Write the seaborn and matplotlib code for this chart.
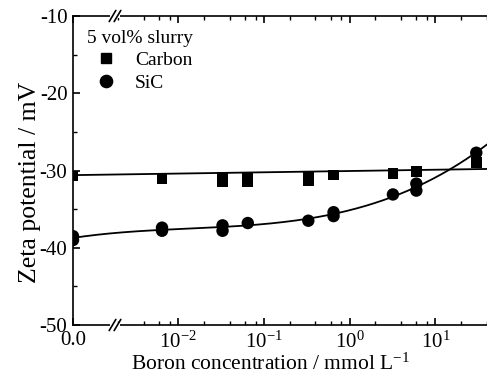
import numpy as np
import pandas as pd
import matplotlib
matplotlib.use("Agg")
import matplotlib.pyplot as plt
import seaborn as sns
from matplotlib.lines import Line2D
from matplotlib.scale import SymmetricalLogTransform
from matplotlib.ticker import FixedLocator, FixedFormatter, NullFormatter

# Boron concentration (mmol/L) vs. zeta potential (mV), 5 vol% slurries
carbon_conc = [0, 0.0065, 0.033, 0.033, 0.065, 0.065, 0.33, 0.33, 0.65, 3.2, 6.0, 30]
carbon_zeta = [-30.7, -31.0, -30.9, -31.4, -31.0, -31.5, -30.9, -31.3, -30.6, -30.4, -30.1, -29.0]

sic_conc = [0, 0, 0.0065, 0.0065, 0.033, 0.033, 0.065, 0.33, 0.65, 0.65, 3.2, 6.0, 6.0, 30]
sic_zeta = [-38.5, -39.0, -37.4, -37.8, -37.1, -37.8, -36.8, -36.5, -35.4, -35.9, -33.1, -31.7, -32.6, -27.7]

# straight trend through the carbon data (end values)
carbon_trend_conc = [0, 40]
carbon_trend_zeta = [-30.6, -29.8]

x_major = [0, 1e-2, 1e-1, 1e0, 1e1]
x_major_labels = ["0.0", r"$\mathregular{10^{-2}}$", r"$\mathregular{10^{-1}}$",
                  r"$\mathregular{10^{0}}$", r"$\mathregular{10^{1}}$"]
y_major = [-50, -40, -30, -20, -10]

LINTHRESH = 1e-3
LINSCALE = 0.2025
XMAX = 40

sns.set_theme(style="ticks")
plt.rcParams.update({
    "font.family": ["Liberation Serif", "DejaVu Serif"],
    "mathtext.fontset": "custom",
    "mathtext.rm": "Liberation Serif",
    "mathtext.it": "Liberation Serif:italic",
    "axes.unicode_minus": False,
    "axes.linewidth": 1.2,
    "axes.edgecolor": "black",
    "xtick.color": "black",
    "ytick.color": "black",
    "text.color": "black",
    "axes.labelcolor": "black",
})

fig = plt.figure(figsize=(4.87, 3.82), dpi=100)
ax = fig.add_axes([73 / 487, 1 - 325 / 382, (487 - 73) / 487, (325 - 16) / 382])
ax.set_xscale("symlog", linthresh=LINTHRESH, linscale=LINSCALE)

points = pd.DataFrame({
    "conc": carbon_conc + sic_conc,
    "zeta": carbon_zeta + sic_zeta,
    "sample": ["Carbon"] * len(carbon_conc) + ["SiC"] * len(sic_conc),
})

# SiC trend: cubic fit in the axis' own (symlog) coordinate
tr = SymmetricalLogTransform(10, LINTHRESH, LINSCALE)
t_sic = tr.transform(np.asarray(sic_conc, float)) / LINTHRESH
coef = np.polyfit(t_sic, sic_zeta, 3)
t_grid = np.linspace(tr.transform(np.array([0.0]))[0], tr.transform(np.array([float(XMAX)]))[0], 300) / LINTHRESH
conc_grid = tr.inverted().transform(t_grid * LINTHRESH)
sic_trend = pd.DataFrame({"conc": conc_grid, "zeta": np.polyval(coef, t_grid)})
carbon_trend = pd.DataFrame({"conc": carbon_trend_conc, "zeta": carbon_trend_zeta})

sns.lineplot(data=carbon_trend, x="conc", y="zeta", color="black", lw=1.3, ax=ax, sort=False)
sns.lineplot(data=sic_trend, x="conc", y="zeta", color="black", lw=1.3, ax=ax, sort=False)
sns.scatterplot(data=points, x="conc", y="zeta", style="sample", size="sample",
                markers={"Carbon": "s", "SiC": "o"}, sizes={"Carbon": 58, "SiC": 80},
                color="black", edgecolor="black", linewidth=0, ax=ax, legend=False, zorder=3)

ax.set_xlim(0, XMAX)
ax.set_ylim(-50, -10)

minor_x = [m * 10.0 ** k for k in range(-3, 2) for m in (2, 4, 6, 8)]
ax.xaxis.set_major_locator(FixedLocator(x_major))
ax.xaxis.set_major_formatter(FixedFormatter(x_major_labels))
ax.xaxis.set_minor_locator(FixedLocator(minor_x))
ax.xaxis.set_minor_formatter(NullFormatter())
ax.yaxis.set_major_locator(FixedLocator(y_major))
ax.yaxis.set_minor_locator(FixedLocator([-45, -35, -25, -15]))

ax.tick_params(which="both", direction="in", top=True, right=False, labelsize=15)
ax.tick_params(axis="y", pad=4)
ax.tick_params(axis="x", pad=4.5)
ax.tick_params(which="major", length=5, width=1.2)
ax.tick_params(which="minor", length=3, width=1.0)
ax.spines["right"].set_visible(False)

ax.set_xlabel(r"Boron concentration / mmol L$^{\mathregular{-1}}$", fontsize=15.5)
ax.set_ylabel("Zeta potential / mV", fontsize=18.5)
ax.xaxis.set_label_coords((270 - 73) / 414, -0.093)
ax.yaxis.set_label_coords((41 - 73) / 414, 0.46)

# axis break marks on the top and bottom spines
bx = (115 - 73) / (487 - 73)
for yb in (0.0, 1.0):
    ax.plot([bx - 0.012, bx + 0.012], [yb, yb], transform=ax.transAxes, color="white",
            lw=3, clip_on=False, zorder=5, solid_capstyle="butt")
    for dx in (-0.006, 0.006):
        ax.plot([bx + dx - 0.008, bx + dx + 0.008], [yb - 0.018, yb + 0.018],
                transform=ax.transAxes, color="black", lw=1.2, clip_on=False, zorder=6)

handles = [Line2D([], [], marker="s", ls="none", color="black", markersize=7.6),
           Line2D([], [], marker="o", ls="none", color="black", markersize=8.8)]
leg = ax.legend(handles, ["Carbon", "SiC"], title="5 vol% slurry", loc="upper left",
                frameon=False, fontsize=14, title_fontsize=14, alignment="left",
                borderaxespad=0.3, handletextpad=0.5, labelspacing=0.25,
                bbox_to_anchor=(0.0, 1.0))

fig.savefig("out.png", dpi=100)
